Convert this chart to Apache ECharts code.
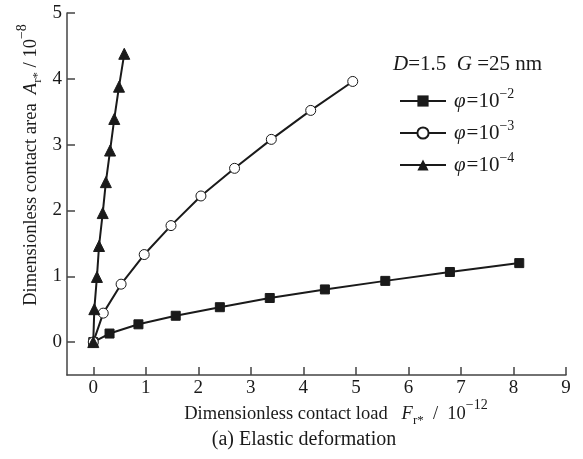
<!DOCTYPE html>
<html><head><meta charset="utf-8">
<script src="https://cdn.jsdelivr.net/npm/echarts@6/dist/echarts.min.js"></script>
<style>html,body{margin:0;padding:0;background:#fff}#c{width:583px;height:459px}</style>
</head><body><div id="c"></div>
<script>
// Data (F_r* / 1e-12, A_r* / 1e-8)
const loadPhi2 = [0, 0.31, 0.86, 1.57, 2.41, 3.36, 4.41, 5.56, 6.79, 8.11];
const areaPhi2 = [0, 0.13, 0.27, 0.40, 0.53, 0.67, 0.80, 0.93, 1.065, 1.20];
const loadPhi3 = [0, 0.19, 0.53, 0.97, 1.48, 2.05, 2.69, 3.39, 4.14, 4.94];
const areaPhi3 = [0, 0.44, 0.88, 1.33, 1.77, 2.22, 2.64, 3.08, 3.52, 3.96];
const loadPhi4 = [0, 0.02, 0.07, 0.11, 0.18, 0.24, 0.32, 0.40, 0.49, 0.59];
const areaPhi4 = [0, 0.50, 0.99, 1.46, 1.96, 2.43, 2.91, 3.39, 3.88, 4.38];
const xTicks = [0, 1, 2, 3, 4, 5, 6, 7, 8, 9];
const yTicks = [0, 1, 2, 3, 4, 5];
const seriesNames = ['phi2', 'phi3', 'phi4'];
const seriesExp = {phi2: '−2', phi3: '−3', phi4: '−4'};

const FONT = '"Liberation Serif", "DejaVu Serif", serif';
const INK = '#1a1a1a';
const pair = (xs, ys) => xs.map((x, i) => [x, ys[i]]);

const chart = echarts.init(document.getElementById('c'), null, {renderer: 'canvas'});
const titleRich = {
  n: {fontFamily: FONT, fontSize: 18.5, fill: INK, lineHeight: 24, verticalAlign: 'bottom'},
  i: {fontFamily: FONT, fontSize: 18.5, fontStyle: 'italic', fill: INK, lineHeight: 24, verticalAlign: 'bottom'},
  sub: {fontFamily: FONT, fontSize: 13, fill: INK, lineHeight: 24, verticalAlign: 'bottom', padding: [0, 0, -3, 0]},
  sup: {fontFamily: FONT, fontSize: 14, fill: INK, lineHeight: 24, verticalAlign: 'top', padding: [-2, 0, 0, 0]}
};
const lineCommon = {type: 'line', showSymbol: true, lineStyle: {color: INK, width: 2}, z: 2, animation: false};

chart.setOption({
  animation: false,
  backgroundColor: '#fff',
  grid: {left: 67, right: 17, top: 13, bottom: 84, containLabel: false},
  xAxis: {
    type: 'value', min: -0.5, max: 9,
    axisLine: {show: true, onZero: false, lineStyle: {color: '#444', width: 1.5}},
    axisTick: {show: true, inside: true, length: 8, customValues: xTicks, lineStyle: {color: '#444', width: 1.5}},
    axisLabel: {customValues: xTicks, fontFamily: FONT, fontSize: 19, color: INK, margin: 4},
    splitLine: {show: false}
  },
  yAxis: {
    type: 'value', min: -0.5, max: 5,
    axisLine: {show: true, onZero: false, lineStyle: {color: '#444', width: 1.5}},
    axisTick: {show: true, inside: true, length: 8, customValues: yTicks, lineStyle: {color: '#444', width: 1.5}},
    axisLabel: {customValues: yTicks, fontFamily: FONT, fontSize: 19, color: INK, margin: 5},
    splitLine: {show: false}
  },
  legend: {
    orient: 'vertical', left: 394, top: 82, itemWidth: 46, itemHeight: 14, itemGap: 7,
    data: seriesNames,
    formatter: n => '{i|φ}{n|=10}{sup|' + seriesExp[n] + '}',
    textStyle: {rich: {
      i: {fontFamily: FONT, fontSize: 21, fontStyle: 'italic', color: INK, lineHeight: 22, verticalAlign: 'bottom', padding: [0, 1, 0, 3]},
      n: {fontFamily: FONT, fontSize: 21, color: INK, lineHeight: 22, verticalAlign: 'bottom'},
      sup: {fontFamily: FONT, fontSize: 14, color: INK, lineHeight: 22, verticalAlign: 'top', padding: [-3, 0, 0, 0]}
    }}
  },
  graphic: [{
    type: 'text', x: 393, y: 64,
    style: {
      text: '{i|D}{n|=1.5  }{i|G}{n| =25 nm}', verticalAlign: 'middle', align: 'left',
      rich: {
        i: {fontFamily: FONT, fontSize: 21, fontStyle: 'italic', fill: INK},
        n: {fontFamily: FONT, fontSize: 21, fill: INK}
      }
    }
  }, {
    type: 'text', x: 336, y: 412,
    style: {text: '{n|Dimensionless contact load   }{i|F}{sub|r*}{n|  /  10}{sup|−12}', rich: titleRich,
      align: 'center', verticalAlign: 'middle'}
  }, {
    type: 'text', x: 29, y: 165, rotation: Math.PI / 2,
    style: {text: '{n|Dimensionless contact area  }{i|A}{sub|r*}{n| / 10}{sup|−8}', rich: titleRich,
      align: 'center', verticalAlign: 'middle'}
  }, {
    type: 'text', x: 304, y: 440,
    style: {text: '(a) Elastic deformation', font: '20px ' + FONT, fill: INK, align: 'center', verticalAlign: 'middle'}
  }],
  series: [
    Object.assign({}, lineCommon, {name: 'phi2', data: pair(loadPhi2, areaPhi2), symbol: 'rect', symbolSize: 9,
      itemStyle: {color: INK, borderColor: INK}}),
    Object.assign({}, lineCommon, {name: 'phi3', data: pair(loadPhi3, areaPhi3), symbol: 'circle', symbolSize: 10,
      itemStyle: {color: '#fff', borderColor: INK, borderWidth: 1}}),
    Object.assign({}, lineCommon, {name: 'phi4', data: pair(loadPhi4, areaPhi4), symbol: 'triangle', symbolSize: 11,
      itemStyle: {color: INK, borderColor: INK}})
  ]
});
</script></body></html>
